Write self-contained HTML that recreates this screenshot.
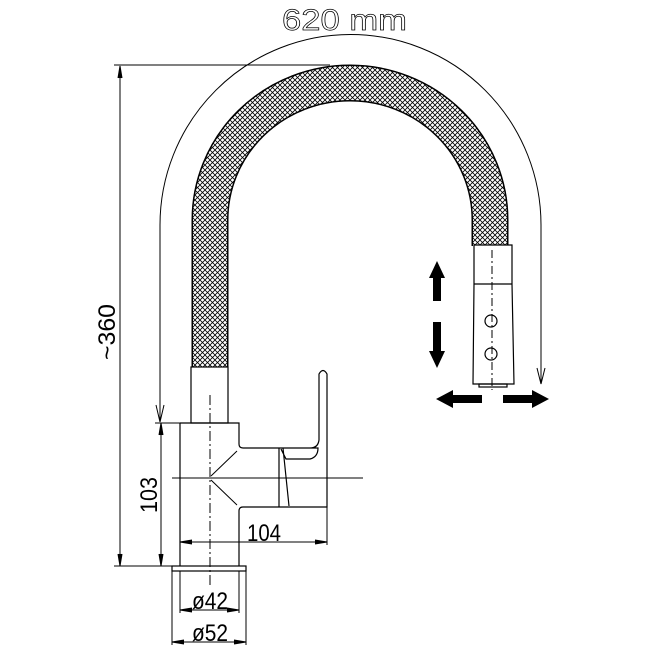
<!DOCTYPE html>
<html><head><style>body{margin:0;background:#fff}svg{display:block}</style></head><body>
<svg width="648" height="648" viewBox="0 0 648 648" xmlns="http://www.w3.org/2000/svg" font-family="Liberation Sans, sans-serif">
<defs>
<pattern id="mesh" width="5" height="5" patternUnits="userSpaceOnUse">
<rect width="5" height="5" fill="#fff"/>
<path d="M0,0 L5,5 M5,0 L0,5" stroke="#000" stroke-width="0.8"/>
</pattern>
</defs>
<g fill="none" stroke="#000" stroke-width="1.2">
<path d="M210,368 L210,220 A140,137 0 0 1 490,220 L490,246" stroke="#000" stroke-width="37"/>
<path d="M210,368 L210,220 A140,137 0 0 1 490,220 L490,246" stroke="url(#mesh)" stroke-width="34"/>
<path d="M160,420 L160,225 A190,190 0 0 1 541,225 L541,384" stroke-width="1"/>
<path d="M156,405 L160,422 L164,405" stroke-width="1"/>
<path d="M537,368 L541,384 L545,368" stroke-width="1"/>
<line x1="114" y1="65" x2="330" y2="65" stroke-width="1"/>
<line x1="120" y1="66" x2="120" y2="566" stroke-width="1"/>
<path d="M118,78 L120,66 L122,78" fill="#000" stroke-width="1"/>
<path d="M118,554 L120,566 L122,554" fill="#000" stroke-width="1"/>
<line x1="114" y1="566" x2="180" y2="566" stroke-width="1"/>
<rect x="191" y="367" width="37" height="56" fill="#fff"/>
<path d="M180,423 L239,423 L239,444 Q239,448 243,448 L318,448 Q318,457 310,459 L286,459 L281,449 M279,448 L279,507 M283,448 L289,506 M239,566 L239,511 Q239,507 243,507 L327,507 L327,374 Q323,367 319,374 L319,440 Q318,448 310,448 M180,423 L180,566" />
<rect x="172" y="566" width="74" height="5"/>
<line x1="172" y1="571" x2="172" y2="645" stroke-width="1"/>
<line x1="246" y1="571" x2="246" y2="645" stroke-width="1"/>
<line x1="180" y1="571" x2="180" y2="613" stroke-width="1"/>
<line x1="239" y1="571" x2="239" y2="613" stroke-width="1"/>
<line x1="210" y1="395" x2="210" y2="585" stroke-width="1" stroke-dasharray="10,3,2,3"/>
<line x1="172" y1="478" x2="363" y2="478" stroke-width="1"/>
<path d="M237,451 L211,476 M211,480 L237,505" stroke-width="1"/>
<line x1="155" y1="423" x2="180" y2="423" stroke-width="1"/>
<line x1="161" y1="423" x2="161" y2="566" stroke-width="1"/>
<path d="M159,435 L161,423 L163,435" fill="#000" stroke-width="1"/>
<path d="M159,554 L161,566 L163,554" fill="#000" stroke-width="1"/>
<line x1="180" y1="542" x2="327" y2="542" stroke-width="1"/>
<line x1="327" y1="507" x2="327" y2="545" stroke-width="1"/>
<path d="M192,540 L180,542 L192,544 M315,540 L327,542 L315,544" fill="#000" stroke-width="1"/>
<line x1="180" y1="610" x2="239" y2="610" stroke-width="1"/>
<path d="M192,608 L180,610 L192,612 M227,608 L239,610 L227,612" fill="#000" stroke-width="1"/>
<line x1="172" y1="642" x2="246" y2="642" stroke-width="1"/>
<path d="M184,640 L172,642 L184,644 M234,640 L246,642 L234,644" fill="#000" stroke-width="1"/>
<path d="M474,245 L512,245 L512,284 L514,384 L473,384 L474,284 Z" fill="#fff"/>
<line x1="474" y1="284" x2="512" y2="284"/>
<rect x="479" y="384" width="28" height="3"/>
<line x1="492" y1="250" x2="492" y2="390" stroke-width="1" stroke-dasharray="8,3,2,3"/>
<circle cx="491" cy="321" r="6"/>
<circle cx="491" cy="354" r="6"/>
</g>
<g fill="#000">
<path d="M437,261 L445,278 L441,278 L441,301 L433,301 L433,278 L429,278 Z"/>
<path d="M437,368 L445,351 L441,351 L441,322 L433,322 L433,351 L429,351 Z"/>
<path d="M436,399 L453,390 L453,395 L482,395 L482,403 L453,403 L453,408 Z"/>
<path d="M549,399 L532,390 L532,395 L503,395 L503,403 L532,403 L532,408 Z"/>
</g>
<g fill="#000">
<text x="282" y="30" style="font-size:30px" textLength="125" lengthAdjust="spacingAndGlyphs" fill="none" stroke="#000" stroke-width="0.7">620  mm</text>
<text x="247" y="541" style="font-size:24px" textLength="34" lengthAdjust="spacingAndGlyphs">104</text>
<text x="192" y="609" style="font-size:24px" textLength="36" lengthAdjust="spacingAndGlyphs">ø42</text>
<text x="192" y="641" style="font-size:24px" textLength="36" lengthAdjust="spacingAndGlyphs">ø52</text>
<text transform="translate(157,513) rotate(-90)" style="font-size:24px" textLength="36" lengthAdjust="spacingAndGlyphs">103</text>
<text transform="translate(115,360) rotate(-90)" style="font-size:24px" textLength="56" lengthAdjust="spacingAndGlyphs">~360</text>
</g>
</svg>
</body></html>
